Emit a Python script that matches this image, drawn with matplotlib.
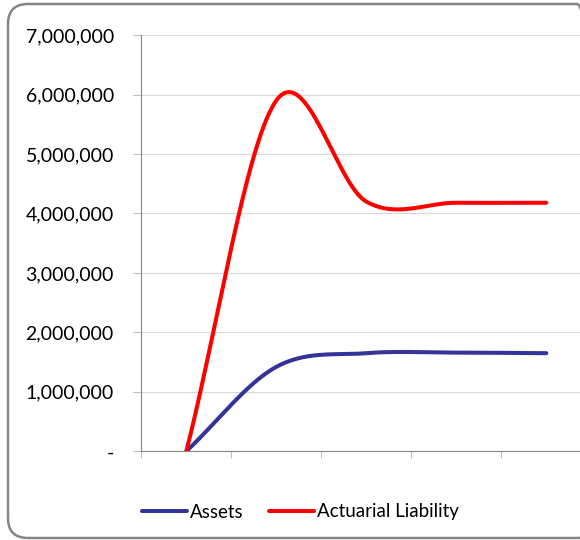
import numpy as np
import matplotlib
matplotlib.use("Agg")
import matplotlib.pyplot as plt
from matplotlib.patches import FancyBboxPatch
from matplotlib.ticker import FuncFormatter, FixedLocator, MultipleLocator

# Data
periods = [1, 2, 3, 4, 5]
assets = [0, 1.42e6, 1.65e6, 1.66e6, 1.65e6]
actuarial_liability = [0, 5.90e6, 4.20e6, 4.18e6, 4.18e6]
series_names = ["Assets", "Actuarial Liability"]
series_colors = ["#333399", "#FF0000"]

plt.rcParams["font.family"] = ["Lato", "DejaVu Sans"]


def smooth_curve(xs, ys, n=60):
    """Piecewise cubic Bezier through the points (spreadsheet-style smoothing)."""
    xs = np.asarray(xs, float)
    ys = np.asarray(ys, float)
    m = len(xs)
    out_x, out_y = [], []
    t = np.linspace(0, 1, n)
    for i in range(m - 1):
        x0, y0, x1, y1 = xs[i], ys[i], xs[i + 1], ys[i + 1]
        if i == 0:
            dx0, dy0 = (x1 - x0) / 3, (y1 - y0) / 3
        else:
            dx0, dy0 = (xs[i + 1] - xs[i - 1]) / 6, (ys[i + 1] - ys[i - 1]) / 6
        if i + 1 == m - 1:
            dx1, dy1 = (x1 - x0) / 3, (y1 - y0) / 3
        else:
            dx1, dy1 = (xs[i + 2] - xs[i]) / 6, (ys[i + 2] - ys[i]) / 6
        cx1, cy1 = x0 + dx0, y0 + dy0
        cx2, cy2 = x1 - dx1, y1 - dy1
        b0, b1, b2, b3 = (1 - t) ** 3, 3 * (1 - t) ** 2 * t, 3 * (1 - t) * t ** 2, t ** 3
        seg_x = b0 * x0 + b1 * cx1 + b2 * cx2 + b3 * x1
        seg_y = b0 * y0 + b1 * cy1 + b2 * cy2 + b3 * y1
        if i > 0:
            seg_x, seg_y = seg_x[1:], seg_y[1:]
        out_x.append(seg_x)
        out_y.append(seg_y)
    return np.concatenate(out_x), np.concatenate(out_y)


W, H = 580, 540
fig = plt.figure(figsize=(W / 100, H / 100), dpi=100)

# Rounded chart border (its right side runs past the canvas edge)
border = FancyBboxPatch((8, 2), 589, 534,
                        boxstyle="round,pad=0,rounding_size=20",
                        transform=None, facecolor="none",
                        edgecolor="#868686", linewidth=1.8, clip_on=False)
fig.patches.append(border)

left_px, right_px = 141.3, 591.3
top_px, bottom_px = 35.1, 451.3
ax = fig.add_axes([left_px / W, 1 - bottom_px / H,
                   (right_px - left_px) / W, (bottom_px - top_px) / H])

x_idx = np.arange(len(periods))
for vals, name, col in zip([assets, actuarial_liability], series_names, series_colors):
    sx, sy = smooth_curve(x_idx, vals)
    ax.plot(sx, sy, color=col, lw=2.9, label=name, solid_capstyle="round", zorder=3)

ax.set_xlim(-0.5, len(periods) - 0.5)
ax.set_ylim(0, 7e6)
ax.yaxis.set_major_locator(MultipleLocator(1e6))
ax.xaxis.set_major_locator(FixedLocator(np.arange(len(periods) + 1) - 0.5))
ax.xaxis.set_ticklabels([])
ax.yaxis.set_major_formatter(FuncFormatter(lambda v, p: "-" if v == 0 else f"{v:,.0f}"))

ax.grid(axis="y", color="#D9D9D9", lw=0.8)
ax.set_axisbelow(True)
for s in ["top", "right"]:
    ax.spines[s].set_visible(False)
for s in ["left", "bottom"]:
    ax.spines[s].set_color("#868686")
    ax.spines[s].set_linewidth(0.8)

ax.tick_params(axis="y", length=5.8, width=0.8, color="#BFBFBF", pad=14,
               labelsize=14, labelcolor="#000000")
ax.tick_params(axis="x", length=5, width=0.8, color="#BFBFBF")

handles, labels = ax.get_legend_handles_labels()
fig.legend(handles, labels, loc="center left",
           bbox_to_anchor=(142 / W, 1 - 512 / H), ncol=2, frameon=False,
           fontsize=13.5, handlelength=2.4, handletextpad=0.15,
           columnspacing=1.35, borderpad=0, borderaxespad=0)

fig.savefig("out.png", dpi=100)
